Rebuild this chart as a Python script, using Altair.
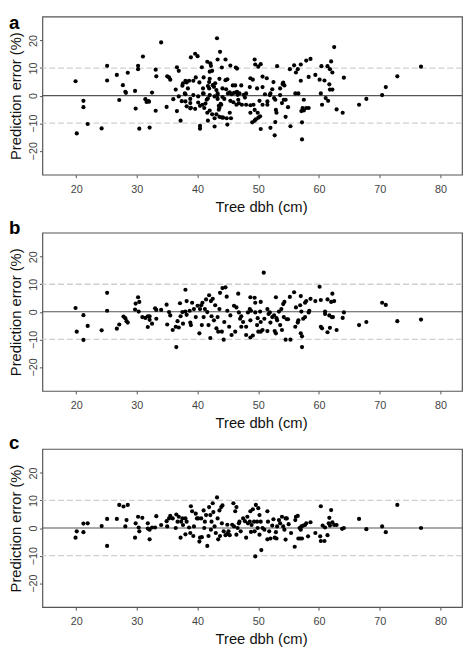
import altair as alt
import pandas as pd

# ---------------- data (tree dbh in cm, prediction error in %) ----------------
points_a = [
    (19.9, 5.2), (20.1, -13.7), (21.2, -1.9), (21.2, -4.2), (21.9, -10.3), (24.2, -11.9),
    (25.1, 10.8), (25.1, 5.5), (26.7, 7.5), (27.1, -1.6), (27.7, 3.8), (28.1, 1.4),
    (28.2, 1.0), (28.5, 8.3), (29.7, 1.7), (29.8, -4.7), (30.2, 10.8), (30.2, 9.6),
    (30.4, -12.0), (31.0, 14.2), (31.4, -1.3), (31.6, -2.3), (31.9, -2.0), (32.0, -2.2),
    (32.1, -11.6), (32.5, 1.1), (33.1, 9.4), (33.2, 7.0), (33.1, -5.5), (34.0, 19.3),
    (34.9, -4.1), (35.0, 7.0), (35.3, 6.6), (35.5, 5.8), (36.0, -1.3), (36.4, 2.2),
    (36.6, 10.3), (36.6, -5.6), (36.9, 9.0), (37.2, -9.1), (37.4, -2.0), (37.5, 3.6),
    (37.6, 4.5), (38.0, 0.5), (38.0, -2.1), (38.2, 4.8), (38.4, 2.6), (38.6, 5.4),
    (38.8, -2.7), (38.8, -4.6), (38.9, 13.9), (39.3, 5.4), (39.6, 15.2), (39.7, 6.6),
    (40.0, 14.3), (40.3, 4.8), (40.1, -2.5), (40.4, -3.7), (40.4, -11.0), (40.4, -12.0),
    (40.7, 10.3), (41.0, 6.6), (41.0, 0.7), (41.1, -4.5), (41.3, -2.9), (41.7, -1.0),
    (41.7, -9.1), (41.9, 2.6), (42.0, 6.1), (42.1, 11.7), (42.2, 10.8), (42.4, 9.0),
    (42.5, 3.8), (42.8, -11.2), (42.9, 4.5), (43.2, 20.8), (43.3, 0.2), (43.3, 13.1),
    (43.5, -5.1), (43.7, 15.9), (43.8, -3.0), (44.0, 10.2), (44.0, -7.9),
    (43.6, 6.1), (44.1, 2.6), (44.6, 13.1), (44.6, 5.6), (44.7, 2.3), (44.9, 5.9),
    (45.0, 0.8), (45.3, 1.2), (45.6, 0.5), (46.0, 1.0), (46.5, 1.4), (46.6, 0.3),
    (45.4, 10.9), (45.8, 3.7), (45.4, -1.9), (45.9, -2.4), (46.4, -3.3), (46.8, -2.8),
    (45.3, -6.2), (45.5, -8.2), (44.8, -8.2), (44.2, -8.0), (43.6, -7.7), (43.5, -3.7),
    (43.6, -4.4), (43.9, -3.3), (43.1, -6.8), (42.4, -6.8), (42.8, -8.2), (44.9, -10.5),
    (42.0, -5.4), (44.1, -0.5), (44.4, -1.2), (43.1, 2.0), (43.3, 0.8), (38.0, 5.4),
    (40.9, 2.6), (41.7, 3.5), (41.9, 4.9), (42.7, 3.2), (36.9, -0.3), (37.9, 0.8),
    (38.8, -1.2), (39.3, 0.2), (40.1, -0.3), (40.9, 0.8), (41.5, -1.5), (42.0, 0.2),
    (42.8, -0.3), (43.3, -1.2), (38.9, -4.4), (39.6, -4.8), (40.8, -3.3), (38.2, -3.9),
    (41.6, -6.2), (41.6, 12.3), (42.0, 8.7),
    (46.3, 10.2), (46.5, 9.8), (46.2, 3.7), (48.7, 6.3), (49.1, 5.8), (49.4, 13.1),
    (49.5, 11.3), (50.0, 10.5), (50.4, 11.4), (50.7, 6.9), (51.4, 6.3), (52.5, 4.9),
    (53.1, 10.7), (54.1, 4.7), (54.3, 3.7), (55.2, 9.6), (55.9, 11.0), (56.2, 8.4),
    (56.5, 9.6), (57.0, 11.3), (57.9, 12.7), (58.6, 13.3), (58.3, 6.8), (59.4, 7.5),
    (60.1, 5.8), (60.4, 10.7), (60.9, 5.5), (61.4, 10.7), (61.8, 9.6), (62.0, 12.4),
    (62.2, 8.4), (62.5, 17.6), (61.7, 4.1), (61.8, 2.2), (62.2, 2.2), (64.1, 6.5),
    (57.0, 5.4), (56.1, 0.8), (56.6, 0.8), (57.5, -1.5), (57.3, -4.5), (57.1, -5.6),
    (57.5, -5.4), (57.9, -4.5), (58.3, -4.5), (57.2, -9.7), (57.2, -15.9), (55.3, -11.1),
    (54.5, -7.7), (54.9, -4.2), (54.2, -1.5), (54.5, -1.5), (53.6, 0.2), (53.9, -2.7),
    (53.0, -6.2), (52.9, -5.2), (52.8, -9.6), (52.7, -14.4), (52.0, -11.7), (50.4, -12.1),
    (50.3, -7.5), (50.0, -8.0), (49.6, -8.6), (49.4, -9.1), (49.0, -9.7), (48.7, -6.2),
    (48.7, -3.5), (48.0, -3.3), (47.3, -3.3), (49.9, -6.2), (50.7, -3.3), (51.5, -2.1),
    (51.5, -3.3), (51.9, 0.2), (51.1, 0.5), (50.7, 3.1), (49.8, 2.6), (48.6, 3.1),
    (48.0, 0.8), (47.2, 3.7), (47.8, -0.7), (46.7, -1.5), (60.3, 0.8), (60.5, -3.3),
    (61.1, -0.9), (61.5, -1.9), (62.9, -5.0), (63.9, -6.2), (66.6, -3.3), (67.8, -1.2),
    (70.4, 0.2), (71.0, 3.1), (72.9, 7.0), (76.8, 10.5), (49.2, -3.3), (49.4, -5.2),
    (50.2, -1.9), (52.0, 0.8), (52.6, -0.9), (52.8, -1.5), (52.3, 2.3), (53.6, 2.6),
    (54.0, 4.2), (46.4, 1.2), (46.9, 0.8), (47.6, 0.3),
]

points_b = [
    (19.9, 1.4), (20.1, -7.2), (21.2, -1.2), (21.2, -10.2), (21.9, -5.1), (24.2, -6.7),
    (25.1, 6.9), (25.1, 0.4), (26.7, -6.1), (27.1, -4.6), (27.8, -1.7), (28.1, -2.3),
    (28.3, -3.4), (28.5, -3.9), (29.7, 0.8), (29.8, 3.0), (30.2, 5.3), (30.3, 0.1),
    (30.4, 3.6), (30.9, -1.9), (31.4, -2.2), (31.8, -1.6), (32.1, -1.6), (31.8, -5.5),
    (32.1, -2.9), (32.5, -4.3), (33.0, 1.3), (33.2, 0.7), (33.2, -2.5), (34.0, 0.7),
    (34.9, 2.6), (35.0, -4.6), (35.3, -0.1), (35.5, -1.3), (35.9, -6.6), (36.4, -5.4),
    (36.5, -12.8), (36.7, -3.4), (36.9, -5.7), (37.1, 3.1), (37.2, -1.6), (37.5, -0.1),
    (37.6, -4.3), (38.0, 8.0), (38.0, 0.1), (38.2, 3.9), (38.2, -1.1), (38.7, 0.4),
    (38.8, -3.9), (38.9, -4.8), (39.1, 3.3), (39.4, 1.0), (39.7, -1.9), (40.0, 2.2),
    (40.3, -7.8), (40.4, 1.0), (40.6, 2.4), (40.7, -4.8), (40.8, 3.3), (41.0, -1.9),
    (41.2, 1.0), (41.4, 4.5), (41.6, -0.1), (41.8, -4.8), (41.9, 6.0), (42.1, -9.5),
    (42.2, 3.9), (42.3, -1.6), (42.5, 4.7), (42.7, -3.1), (42.9, 2.4), (43.1, -6.0),
    (43.3, -1.9), (43.4, -7.2), (43.6, 1.0), (43.7, 6.9), (44.0, -7.2), (44.1, 8.6),
    (44.3, -10.1), (44.4, -3.7), (44.6, 8.9), (44.8, 5.5), (44.9, 0.4), (45.2, -5.4),
    (45.4, -1.3), (45.6, -8.4), (46.0, 2.2), (46.2, -7.2),
    (46.4, 1.6), (46.7, 6.6), (46.8, -0.2), (47.0, -2.5), (47.2, -1.6), (47.2, -5.4),
    (47.5, -3.7), (48.0, -5.4), (48.0, -8.4), (48.3, -0.2), (48.6, 1.0), (48.7, 5.3),
    (48.7, -3.1), (48.7, -9.3), (48.8, 0.4), (49.1, -8.6), (49.4, 5.1), (49.5, 3.3),
    (49.5, -0.2), (49.8, -4.8), (49.9, -2.3), (50.0, -7.2), (50.3, 0.1), (50.4, 3.6),
    (50.4, -3.7), (50.4, -7.2), (50.7, -6.6), (50.9, 14.2), (51.0, -2.5), (51.5, 1.0),
    (51.5, -7.0), (51.7, -0.8), (51.9, -0.2), (52.0, -3.9), (52.3, -1.9), (52.6, -1.3),
    (52.7, -7.0), (52.9, 5.3), (52.9, -7.8), (53.0, -2.3), (53.1, -3.1), (53.4, 0.1),
    (53.6, -4.8), (53.8, 1.0), (53.9, -6.6), (54.1, 2.8), (54.2, -1.9), (54.3, 3.6),
    (54.5, -10.1), (54.7, -2.7), (54.9, -2.7), (55.2, 5.4), (55.3, -10.1), (55.9, 7.1),
    (56.1, -5.4), (56.2, 1.6), (56.5, -3.9), (56.6, -3.1), (56.9, 2.4), (57.0, -7.8),
    (57.0, 5.7), (57.1, 0.1), (57.2, -8.9), (57.2, -12.8), (57.4, -2.5), (57.7, 3.3),
    (57.7, -1.9), (57.9, 3.9), (58.3, -0.2), (58.4, 0.4), (58.6, 4.7), (59.4, 3.9),
    (60.1, 9.1), (60.3, 4.3), (60.3, -5.4), (60.5, -6.0), (61.0, 0.1), (61.0, -0.8),
    (61.4, 4.5), (61.4, -7.4), (61.7, -1.3), (61.8, -5.8), (62.0, 3.6), (62.1, -1.9),
    (62.2, 6.6), (62.3, -1.9), (62.5, 3.9), (62.9, -6.6), (63.9, -2.2), (64.1, -0.2),
    (66.6, -4.8), (67.8, -3.7), (70.4, 3.3), (71.0, 2.5), (72.9, -3.4), (76.8, -2.8),
]

points_c = [
    (19.9, -3.5), (20.1, -1.2), (21.2, 1.6), (21.2, -1.5), (21.9, 1.7), (24.2, 0.7),
    (25.1, 3.3), (25.1, -6.5), (26.7, 3.3), (27.1, 8.4), (27.8, 7.8), (28.1, 0.6),
    (28.3, 2.9), (28.5, 8.4), (29.7, -3.5), (29.8, 1.7), (30.2, 4.1), (30.3, 0.2),
    (30.4, -1.2), (30.9, 3.7), (31.8, 1.7), (31.8, -0.2), (32.1, -4.1), (32.1, -0.6),
    (32.5, 0.2), (33.0, 0.2), (33.2, 4.3), (34.0, 1.1), (34.9, 2.5), (35.0, 0.6),
    (35.3, 3.5), (35.5, 4.4), (35.9, 3.5), (36.4, 0.0), (36.5, 4.9), (36.7, 2.3),
    (36.9, 4.1), (37.2, -3.5), (37.3, 2.3), (37.5, 3.5), (37.6, 1.1), (38.0, 3.5),
    (38.0, -2.3), (38.2, 2.3), (38.6, 0.2), (38.8, -1.8), (38.9, 7.9), (39.1, 6.1),
    (39.3, -2.9), (39.4, 0.6), (39.7, 5.2), (39.9, 3.5), (40.1, 3.5), (40.3, -4.9),
    (40.4, -3.5), (40.6, 3.5), (40.7, -3.3), (41.0, 6.4), (41.1, 0.0), (41.2, 2.3),
    (41.4, 4.7), (41.6, -6.5), (41.8, -2.9), (41.9, 7.6), (42.1, 4.7), (42.2, -0.6),
    (42.3, 2.3), (42.5, 9.0), (42.6, 5.8), (42.8, 0.6), (43.0, -1.8), (43.2, 11.1),
    (43.3, 3.5), (43.4, -4.1), (43.6, 6.4), (43.7, -2.9), (43.9, 7.6), (44.0, 1.7),
    (44.1, 8.2), (44.3, -1.2), (44.6, -2.6), (44.9, -2.1), (44.9, 1.2), (45.1, -1.2),
    (45.3, -2.6), (45.7, 1.2), (45.9, 9.0), (46.0, 0.6), (46.2, 6.1),
    (46.4, 7.6), (46.4, -2.4), (46.6, 0.0), (46.8, 1.7), (46.9, 2.3), (47.1, -1.2),
    (47.5, 3.5), (47.8, 2.5), (48.0, -3.5), (48.2, 4.1), (48.3, 1.7), (48.6, 2.3),
    (48.7, 6.1), (48.8, -1.4), (48.9, 1.1), (49.1, 6.8), (49.3, 2.3), (49.4, -1.2),
    (49.6, 8.4), (49.5, -10.3), (49.8, 2.3), (49.9, 0.0), (50.0, 7.2), (50.2, 4.7),
    (50.2, -2.4), (50.4, 2.3), (50.5, -8.0), (50.7, 0.0), (51.0, -0.6), (51.5, 6.1),
    (51.5, -4.1), (51.6, 2.3), (51.8, -1.2), (52.0, -3.8), (52.3, 0.9), (52.5, 3.2),
    (52.7, -3.5), (52.9, -1.5), (53.0, -3.8), (53.1, 0.6), (53.4, 2.9), (53.6, 1.7),
    (53.9, 4.1), (54.1, 0.6), (54.3, -0.6), (54.5, 3.5), (54.5, -4.2), (54.7, 3.5),
    (55.0, 1.4), (55.4, -1.8), (56.0, -6.8), (56.1, 2.9), (56.2, 4.1), (56.5, 4.4),
    (56.6, -3.8), (56.8, 0.0), (56.9, -3.8), (57.0, -0.6), (57.1, 0.6), (57.2, -3.8),
    (57.4, 0.9), (57.7, 1.1), (57.9, 1.7), (58.2, -3.0), (58.6, 2.1), (59.4, -1.8),
    (60.2, -3.0), (60.3, 7.9), (60.3, -4.7), (60.6, 0.9), (60.9, -4.7), (61.0, 0.2),
    (61.4, -2.6), (61.6, 1.7), (61.7, 3.7), (61.8, 0.9), (62.0, 6.5), (62.2, 2.1),
    (62.5, 1.1), (62.9, 1.1), (63.8, -0.3), (64.1, 0.0), (66.6, 3.3), (67.8, -0.4),
    (70.4, 0.6), (71.0, -1.5), (72.9, 8.4), (76.8, 0.0),
]

panel_labels = ["a", "b", "c"]
x_ticks = [20, 30, 40, 50, 60, 70, 80]
y_ticks = [-20, -10, 0, 10, 20]
zero_line = [0]
band_lines = [-10, 10]

# ---------------- styling ----------------
FONT = "Liberation Sans"
X_DOMAIN = [14.44, 83.56]
Y_DOMAIN = [-28.7, 28.7]
PANEL_W = 427
PANEL_H = 161


def panel(points, label, label_y):
    df = pd.DataFrame(points, columns=["dbh", "err"])
    xenc = alt.X(
        "dbh:Q",
        scale=alt.Scale(domain=X_DOMAIN, nice=False, zero=False),
        axis=alt.Axis(
            values=x_ticks, title="Tree dbh (cm)", tickSize=3, labelPadding=6,
            titleX=222.5, titleY=25, titleBaseline="top", titleAlign="center",
        ),
    )
    yenc = alt.Y(
        "err:Q",
        scale=alt.Scale(domain=Y_DOMAIN, nice=False, zero=False),
        axis=alt.Axis(
            values=y_ticks, title="Prediction error (%)", tickSize=3, labelPadding=1,
            labelAngle=270, labelAlign="center", labelBaseline="bottom",
            titleAngle=270, titleX=-19, titleBaseline="bottom", titleAlign="center",
        ),
    )
    dashed = alt.Chart(pd.DataFrame({"err": band_lines})).mark_rule(
        color="#cfcfcf", strokeDash=[6, 3], strokeWidth=1.3
    ).encode(y=yenc)
    zero = alt.Chart(pd.DataFrame({"err": zero_line})).mark_rule(
        color="#555555", strokeWidth=1.1
    ).encode(y=yenc)
    pts = alt.Chart(df).mark_circle(size=18, color="black", opacity=1).encode(x=xenc, y=yenc)
    lab = alt.Chart(pd.DataFrame({"t": [label]})).mark_text(
        align="left", baseline="alphabetic", fontSize=19, fontWeight="bold",
        font=FONT, color="black",
    ).encode(text="t:N", x=alt.value(-34), y=alt.value(label_y))
    return alt.layer(dashed, zero, pts, lab).properties(width=PANEL_W, height=PANEL_H)


pa = panel(points_a, panel_labels[0], 13)
pb = panel(points_b, panel_labels[1], 1.5)
pc = panel(points_c, panel_labels[2], 0)

chart = (
    alt.vconcat(pa, pb, pc, spacing=59, bounds="flush")
    .properties(padding=0, background="white")
    .configure_view(stroke="#555555", strokeWidth=1.2)
    .configure_axis(
        labelFont=FONT, titleFont=FONT, labelColor="#444444", titleColor="#111111",
        labelFontSize=11, titleFontSize=15, titleFontWeight="normal",
        tickColor="#555555", domain=False, grid=False,
    )
)

chart.save("out.html", embed_options={"renderer": "svg", "actions": False})
